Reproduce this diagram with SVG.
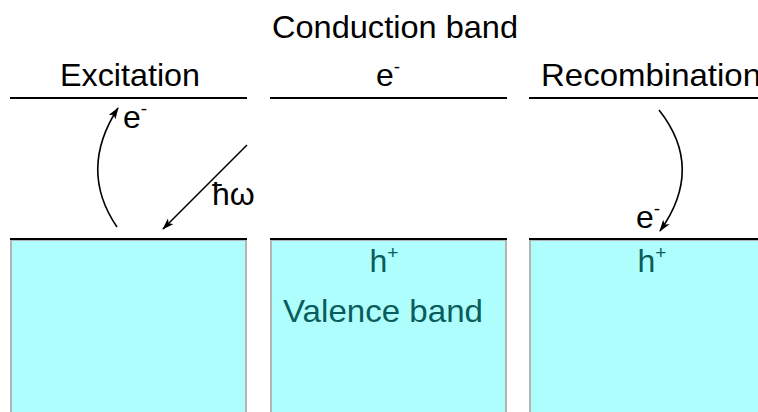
<svg xmlns="http://www.w3.org/2000/svg" width="758" height="412" viewBox="0 0 758 412">
  <style>
    .lbl { font-family: "Liberation Sans", Arial, sans-serif; font-size: 32px; fill: #000; }
    .vb { font-family: "Liberation Sans", Arial, sans-serif; font-size: 32px; fill: #0b5c5c; }
    .sup { font-size: 19px; }
    .band { fill: #aefefe; stroke: #b4b4b4; stroke-width: 2; }
    .edge { stroke: #000; stroke-width: 2; fill: none; }
    .arrow { stroke: #000; stroke-width: 1.6; fill: none; marker-end: url(#head); }
  </style>
  <defs>
    <marker id="head" viewBox="0 0 12 8" refX="11" refY="4" markerWidth="12" markerHeight="8" markerUnits="userSpaceOnUse" orient="auto">
      <path d="M0,0 L12,4 L0,8 L3,4 Z" fill="#000"/>
    </marker>
  </defs>

  <rect width="758" height="412" fill="#fff"/>

  <text class="lbl" x="272" y="38" textLength="246" lengthAdjust="spacingAndGlyphs">Conduction band</text>

  <!-- Excitation panel -->
  <g id="excitation">
    <text class="lbl" x="60" y="86" textLength="140" lengthAdjust="spacingAndGlyphs">Excitation</text>
    <line class="edge" x1="10" y1="98" x2="247" y2="98"/>
    <rect class="band" x="11" y="240" width="235" height="180"/>
    <line class="edge" x1="10" y1="239" x2="247" y2="239"/>
    <text class="lbl" x="123" y="128">e<tspan class="sup" dy="-13">-</tspan></text>
    <text class="lbl" x="212" y="205">ħω</text>
  </g>

  <!-- Middle panel -->
  <g id="middle">
    <text class="lbl" x="388" y="86" text-anchor="middle">e<tspan class="sup" dy="-13">-</tspan></text>
    <line class="edge" x1="270" y1="98" x2="507" y2="98"/>
    <rect class="band" x="271" y="240" width="235" height="180"/>
    <line class="edge" x1="270" y1="239" x2="507" y2="239"/>
    <text class="vb" x="384" y="272" text-anchor="middle">h<tspan class="sup" dy="-13">+</tspan></text>
    <text class="vb" x="283" y="322" textLength="200" lengthAdjust="spacingAndGlyphs">Valence band</text>
  </g>

  <!-- Recombination panel -->
  <g id="recombination">
    <text class="lbl" x="541" y="86" textLength="220" lengthAdjust="spacingAndGlyphs">Recombination</text>
    <line class="edge" x1="529" y1="98" x2="758" y2="98"/>
    <rect class="band" x="530" y="240" width="240" height="180"/>
    <line class="edge" x1="529" y1="239" x2="758" y2="239"/>
    <text class="lbl" x="636" y="228">e<tspan class="sup" dy="-13">-</tspan></text>
    <text class="vb" x="652" y="272" text-anchor="middle">h<tspan class="sup" dy="-13">+</tspan></text>
  </g>

  <!-- Transitions -->
  <g id="connectors">
    <path class="arrow" d="M117,227 Q78,170 118,108"/>
    <line class="arrow" x1="247" y1="145" x2="163" y2="229"/>
    <path class="arrow" d="M659,110 Q705,168 660,231"/>
  </g>
</svg>
